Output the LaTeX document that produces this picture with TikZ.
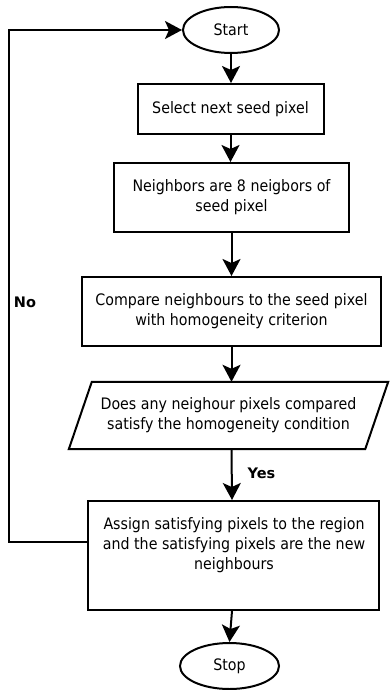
\documentclass[tikz,border=0pt]{standalone}
\usepackage{fontspec}
\setmainfont{DejaVu Sans}[FakeStretch=0.9]
\newfontfamily\lblfont{DejaVu Sans}
\usetikzlibrary{shapes.geometric,arrows.meta}
\begin{document}
\begin{tikzpicture}[x=1pt,y=-1pt,
  txt/.style={align=center,font=\fontsize{15.8}{20}\selectfont,inner sep=0pt},
  box/.style={txt,draw,rectangle,line width=2pt},
  term/.style={txt,draw,ellipse,line width=2pt},
  arr/.style={line width=2pt,-{Stealth[length=17pt,width=18pt,inset=4pt]}},
  lbl/.style={font=\lblfont\bfseries\fontsize{14.5}{17}\selectfont,inner sep=0pt}]
\useasboundingbox (0,0) rectangle (389,690);
\node[term,minimum width=96,minimum height=46] (start) at (231,30) {Start};
\node[box,minimum width=186,minimum height=50] (select) at (230.5,109) {Select next seed pixel};
\node[box,minimum width=235,minimum height=69] (neigh) at (231.5,197.5) {Neighbors are 8 neigbors of\\seed pixel};
\node[box,minimum width=299,minimum height=69] (compare) at (231.5,311.5) {Compare neighbours to the seed pixel\\with homogeneity criterion};
\node[txt,minimum width=296,minimum height=67] (dec) at (228.5,415.5) {Does any neighour pixels compared\\satisfy the homogeneity condition};
\draw[line width=2pt,line join=miter] ([xshift=-11.5]dec.south west) -- ([xshift=11.5]dec.north west) -- ([xshift=11.5]dec.north east) -- ([xshift=-11.5]dec.south east) -- cycle;
\node[box,minimum width=291,minimum height=109] (assign) at (233.5,555.5) {};
\node[txt] (assigntxt) at (234,545) {Assign satisfying pixels to the region\\and the satisfying pixels are the new\\neighbours};
\node[term,minimum width=99,minimum height=46] (stop) at (229.5,666) {Stop};
\node[lbl] (no) at (25,302) {No};
\node[lbl] (yes) at (261.5,473) {Yes};
\coordinate (loopcorner) at (9,542);
\draw[arr] (start.south) -- (start.south |- select.north);
\draw[arr] (select.south) -- (select.south |- neigh.north);
\draw[arr] (neigh.south) -- (neigh.south |- compare.north);
\draw[arr] (compare.south) -- (compare.south |- dec.north);
\draw[arr] (compare.south |- dec.south) -- ([xshift=0.5]compare.south |- assign.north);
\draw[arr] ([xshift=-1.5]assign.south) -- (stop.north);
\draw[arr] (assign.west |- loopcorner) -- (loopcorner) |- (start.west);
\end{tikzpicture}
\end{document}
